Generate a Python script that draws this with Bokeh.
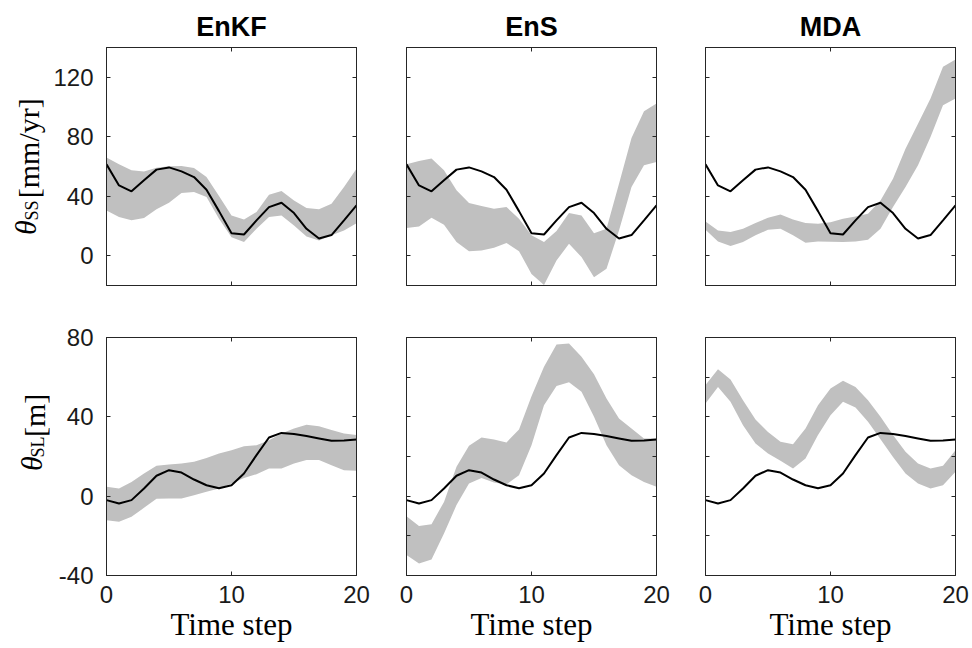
import math
from bokeh.plotting import figure
from bokeh.layouts import column, row
from bokeh.models import LinearAxis, FixedTicker, Range1d
from bokeh.core.properties import value
from bokeh.embed import file_html
from bokeh.resources import INLINE

steps = list(range(21))

methods = ["EnKF", "EnS", "MDA"]

truth_ss = [61.5, 47.3, 43.3, 50.7, 57.9, 59.4, 56.7, 52.9, 44.4, 30.0, 15.2,
            14.3, 23.8, 32.7, 35.6, 28.7, 18.1, 11.6, 13.9, 23.8, 33.9]
truth_sl = [-2.0, -3.7, -2.0, 3.9, 10.3, 13.1, 11.9, 8.4, 5.5, 4.0, 5.5,
            11.4, 20.7, 29.6, 31.9, 31.3, 30.3, 29.1, 27.9, 28.1, 28.6]

enkf_ss_hi = [66, 61.5, 57.4, 56.7, 59.2, 60.1, 60.3, 59, 52.9, 40.1, 27.1,
              24.4, 29.4, 41, 43.5, 37.2, 32.1, 31.2, 35, 46.2, 58.5]
enkf_ss_lo = [30.5, 26, 23.8, 25.3, 31.2, 35.6, 42.2, 42.8, 39.5, 24.9, 12.5,
              9.2, 18.1, 26, 27.1, 20.4, 13, 10.3, 13.7, 17, 21.9]
ens_ss_hi = [61.5, 63.7, 65.3, 57.4, 44, 35.4, 33.4, 31.6, 32.7, 24.9, 13.7,
             9.2, 16.6, 28.7, 27.1, 15.2, 18.1, 48.4, 79.2, 97.1, 102.3]
ens_ss_lo = [18.6, 19.7, 25.5, 20.8, 9.2, 3.1, 3.6, 5.4, 8.5, 3.1, -12.2,
             -19.6, -3.2, 8, -0.9, -14.4, -8.8, 17, 46.2, 60.8, 63]
mda_ss_hi = [23.1, 17, 15.9, 18.1, 22, 25.5, 27.8, 24.4, 22, 21.5, 22.6,
             24.9, 26.4, 28.2, 37.2, 51.8, 72, 88.8, 105.7, 127, 131.9]
mda_ss_lo = [17.5, 9.6, 6.5, 9.2, 13.7, 17.5, 18.1, 13.7, 8.7, 9.6, 9.4,
             9.2, 9.6, 10.7, 18.1, 32.7, 46.2, 60.8, 79.9, 101.2, 105.7]

enkf_sl_hi = [4.7, 3.9, 7.2, 11.4, 15.3, 16, 16.5, 17.3, 19.3, 21.5, 23.2,
              25.2, 25.7, 28.2, 31.6, 34.1, 36, 35.3, 33.3, 31.6, 30.8]
enkf_sl_lo = [-12.1, -12.9, -10.4, -5.9, -1.3, -1.2, -1.2, 0.5, 2.2, 3.9, 6.4,
              9.2, 11.1, 14, 14, 16.5, 18.2, 18.2, 15.6, 13.1, 12.8]
ens_sl_hi = [-10.1, -15, -14.1, -2.9, 14.8, 25.4, 29.6, 28.6, 27.1, 33.6, 50.4,
             65.2, 76.5, 77, 70.3, 61.5, 49.2, 39.2, 34.1, 29.1, 29.1]
ens_sl_lo = [-29.7, -33.9, -31.9, -18.8, -4.5, 6.4, 9.2, 6.9, 5.9, 10.6, 25.7,
             45.9, 55.5, 57.5, 52.6, 40, 25.7, 15.6, 10.6, 7.2, 4.7]
mda_sl_hi = [56, 64, 58.8, 48.4, 38.7, 32.4, 27.4, 26.2, 34.1, 45.9, 54.3,
             58.2, 55.1, 48.4, 40, 30.8, 22.4, 16.5, 14, 15.3, 23.2]
mda_sl_lo = [46.7, 55.1, 47.6, 35.8, 26.6, 21.5, 17.8, 14, 19, 30.8, 40.8,
             47.6, 44.7, 37.5, 28.7, 19.8, 11.4, 6.4, 3.9, 5.5, 12.3]

x_ticks = [0, 10, 20]
ss_ticks = [0, 40, 80, 120]
sl_ticks_left = [-40, 0, 40, 80]
sl_ticks_other = [-20, 0, 20, 40, 60]
x_label = "Time step"

AX = "#262626"
BAND = "#c0c0c0"
SANS = "Liberation Sans"
SERIF = "Liberation Serif"


def style_axis(ax, ticks, labels):
    ax.ticker = FixedTicker(ticks=ticks)
    ax.major_tick_in = 4
    ax.major_tick_out = 0
    ax.minor_tick_line_color = None
    ax.axis_line_color = AX
    ax.major_tick_line_color = AX
    if labels:
        ax.major_label_text_font = SANS
        ax.major_label_text_font_size = "24px"
        ax.major_label_text_color = "#1a1a1a"
        ax.major_label_overrides = {t: str(t) for t in ticks}
    else:
        ax.major_label_text_font_size = "0px"
        ax.major_label_text_color = None
        ax.major_label_standoff = 0


def make_panel(xv, lo, hi, truth, yr, yticks, w, h, bl, br, bt, bb,
               xlabels, ylabels, title=None):
    p = figure(width=w, height=h, x_range=Range1d(0, 20),
               y_range=Range1d(*yr), output_backend="svg",
               toolbar_location=None, min_border_left=bl,
               min_border_right=br, min_border_top=bt, min_border_bottom=bb)
    p.xgrid.grid_line_color = None
    p.ygrid.grid_line_color = None
    p.outline_line_color = AX
    p.background_fill_color = "white"
    p.border_fill_color = "white"
    p.varea(x=xv, y1=lo, y2=hi, fill_color=BAND, fill_alpha=1.0)
    p.line(xv, truth, line_color="black", line_width=2)
    style_axis(p.xaxis[0], x_ticks, xlabels)
    style_axis(p.yaxis[0], yticks, ylabels)
    if xlabels:
        p.xaxis[0].major_label_standoff = 10
        p.xaxis[0].axis_label = x_label
        p.xaxis[0].axis_label_text_font = SERIF
        p.xaxis[0].axis_label_text_font_size = "31px"
        p.xaxis[0].axis_label_text_font_style = "normal"
        p.xaxis[0].axis_label_text_color = "black"
        p.xaxis[0].axis_label_standoff = 1
    if ylabels:
        p.yaxis[0].major_label_standoff = 13
    top = LinearAxis()
    style_axis(top, x_ticks, False)
    p.add_layout(top, "above")
    right = LinearAxis()
    style_axis(right, yticks, False)
    p.add_layout(right, "right")
    if title is not None:
        p.title.text = title
        p.title.align = "center"
        p.title.text_font = SANS
        p.title.text_font_size = "27px"
        p.title.text_font_style = "bold"
        p.title.text_color = "black"
        p.title.standoff = 11
    return p


def label_fig(h):
    f = figure(width=50, height=h, x_range=Range1d(0, 50),
               y_range=Range1d(0, h), output_backend="svg",
               toolbar_location=None, min_border=0, x_axis_type=None,
               y_axis_type=None)
    f.outline_line_color = None
    f.background_fill_color = "white"
    f.border_fill_color = "white"
    return f


def vtext(f, h, x, ytop, text, size, style="normal"):
    f.text(x=[x], y=[h - ytop], text=[text], angle=math.pi / 2,
           text_font=value(SERIF), text_font_size=value(size),
           text_font_style=style, text_align="left",
           text_baseline="middle", text_color="black")


widths = [326, 300, 294]
bls = [56, 30, 29]
brs = [20, 20, 15]
H1 = 311
H2 = 337

top_lo = [enkf_ss_lo, ens_ss_lo, mda_ss_lo]
top_hi = [enkf_ss_hi, ens_ss_hi, mda_ss_hi]
bot_lo = [enkf_sl_lo, ens_sl_lo, mda_sl_lo]
bot_hi = [enkf_sl_hi, ens_sl_hi, mda_sl_hi]

top_row = []
bot_row = []
for i in range(3):
    pt = make_panel(steps, top_lo[i], top_hi[i], truth_ss, (-20, 140),
                    ss_ticks, widths[i], H1, bls[i], brs[i], 47, 26,
                    False, i == 0, title=methods[i])
    top_row.append(pt)
    pb = make_panel(steps, bot_lo[i], bot_hi[i], truth_sl, (-40, 80),
                    sl_ticks_left if i == 0 else sl_ticks_other,
                    widths[i], H2, bls[i], brs[i], 26, H2 - 26 - 238,
                    True, i == 0)
    bot_row.append(pb)

# y-axis labels: theta_SS [mm/yr] and theta_SL [m]
lt = label_fig(H1)
vtext(lt, H1, 25, 245, "θ", "30px", "italic")
vtext(lt, H1, 31, 226, "SS", "18px")
vtext(lt, H1, 28, 197, "[mm/yr]", "30px")

lb = label_fig(H2)
vtext(lb, H2, 31, 500 - H1, "θ", "30px", "italic")
vtext(lb, H2, 37, 481 - H1, "SL", "18px")
vtext(lb, H2, 34, 452 - H1, "[m]", "30px")

layout = column(row(lt, *top_row), row(lb, *bot_row))

open("out.html", "w").write(file_html(layout, INLINE))
